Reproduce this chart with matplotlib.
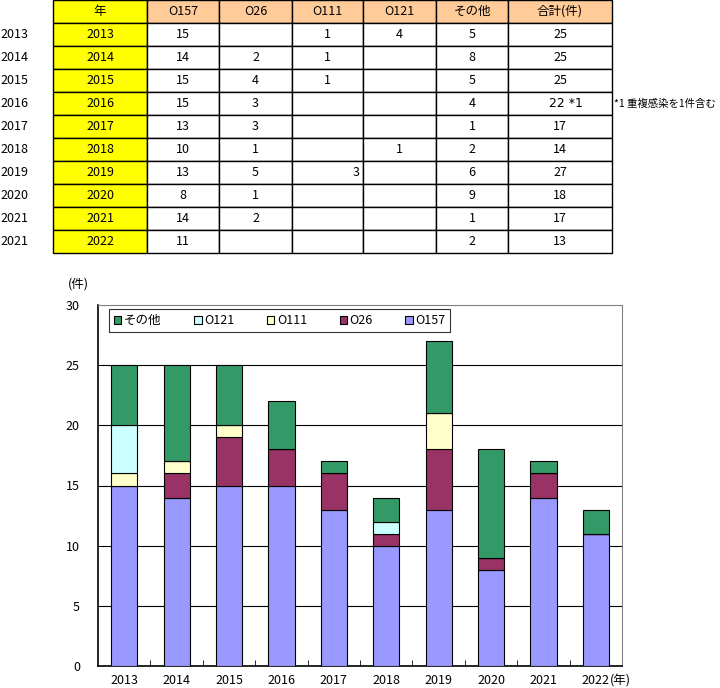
import numpy as np
import matplotlib.pyplot as plt
from matplotlib.patches import Rectangle

plt.rcParams['font.family'] = ['Noto Sans CJK JP', 'DejaVu Sans']

years = ["2013", "2014", "2015", "2016", "2017", "2018", "2019", "2020", "2021", "2022"]
side_years = ["2013", "2014", "2015", "2016", "2017", "2018", "2019", "2020", "2021", "2021"]
o157 = [15, 14, 15, 15, 13, 10, 13, 8, 14, 11]
o26 = [0, 2, 4, 3, 3, 1, 5, 1, 2, 0]
o111 = [1, 1, 1, 0, 0, 0, 3, 0, 0, 0]
o121 = [4, 0, 0, 0, 0, 1, 0, 0, 0, 0]
other = [5, 8, 5, 4, 1, 2, 6, 9, 1, 2]
totals = ["25", "25", "25", "22 *1", "17", "14", "27", "18", "17", "13"]
headers = ["年", "O157", "O26", "O111", "O121", "その他", "合計(件)"]
note = "*1 重複感染を1件含む"

series = [("O157", o157, "#9999FF"), ("O26", o26, "#993366"),
          ("O111", o111, "#FFFFCC"), ("O121", o121, "#CCFFFF"),
          ("その他", other, "#339966")]

W, H = 720, 688
fig = plt.figure(figsize=(W / 100, H / 100), dpi=100)

# table drawn in pixel coordinates
tab = fig.add_axes([0, 0, 1, 1])
tab.set_xlim(0, W)
tab.set_ylim(H, 0)
tab.axis("off")

col_edges = [53, 147, 219, 292, 363, 436, 508, 612]
row_h = 23
fs = 9

for j, h in enumerate(headers):
    x0, x1 = col_edges[j], col_edges[j + 1]
    fc = "#FFFF00" if j == 0 else "#FFCC99"
    tab.add_patch(Rectangle((x0, 0), x1 - x0, row_h, fc=fc, ec="black", lw=1))
    tab.text((x0 + x1) / 2, row_h / 2, h, ha="center", va="center", fontsize=fs)

for i, yr in enumerate(years):
    y0 = row_h * (i + 1)
    yc = y0 + row_h / 2
    vals = [yr, o157[i], o26[i], o111[i], o121[i], other[i], totals[i]]
    for j, v in enumerate(vals):
        x0, x1 = col_edges[j], col_edges[j + 1]
        fc = "#FFFF00" if j == 0 else "white"
        tab.add_patch(Rectangle((x0, y0), x1 - x0, row_h, fc=fc, ec="black", lw=1))
        if v == 0:
            continue
        if j == 3 and yr == "2019":
            tab.text(x1 - 3, yc, str(v), ha="right", va="center", fontsize=fs)
        elif j == 6 and "*" in str(v):
            tab.text((x0 + x1) / 2 + 6, yc, str(v), ha="center", va="center",
                     fontsize=fs, family="DejaVu Sans")
        else:
            tab.text((x0 + x1) / 2, yc, str(v), ha="center", va="center", fontsize=fs)
    tab.text(0, yc, side_years[i], ha="left", va="center", fontsize=fs)
    if totals[i].endswith("*1"):
        tab.text(col_edges[-1] + 2, yc, note, ha="left", va="center", fontsize=7.5)

# stacked bar chart
ax = fig.add_axes([98 / W, (H - 666) / H, 524 / W, (666 - 305) / H])
x = np.arange(len(years))
bottom = np.zeros(len(years))
handles = {}
for name, vals, color in series:
    vals = np.array(vals)
    b = ax.bar(x, vals, 0.5, bottom=bottom, color=color, edgecolor="black", lw=0.8, zorder=3)
    handles[name] = b
    bottom += vals

ax.set_xlim(-0.5, len(years) - 0.5)
ax.set_ylim(0, 30)
ax.set_yticks(range(0, 31, 5))
for yv in range(5, 30, 5):
    ax.axhline(yv, color="black", lw=0.8, zorder=1)
ax.set_xticks(x)
ax.set_xticklabels(years, fontsize=fs)
ax.set_xticks(np.arange(0.5, len(years) - 0.5), minor=True)
ax.tick_params(axis="x", which="major", length=0, pad=5.5)
ax.tick_params(axis="x", which="minor", length=4, direction="in")
ax.tick_params(axis="y", length=0, pad=13, labelsize=fs)
ax.spines["top"].set_color("#808080")
ax.spines["right"].set_color("#808080")
for s in ["left", "bottom"]:
    ax.spines[s].set_linewidth(1.2)

fig.text(68 / W, 1 - 284 / H, "(件)", fontsize=fs, va="center")
fig.text(610 / W, 1 - 681 / H, "(年)", fontsize=fs, va="center", ha="left")

order = ["その他", "O121", "O111", "O26", "O157"]
leg = ax.legend([handles[n] for n in order], order, ncol=5, loc="upper left",
                bbox_to_anchor=(11 / 524, 1 - 4 / 361), fontsize=fs,
                handlelength=0.6, handleheight=0.6, handletextpad=0.2,
                columnspacing=2.6, frameon=True, fancybox=False,
                borderpad=0.4, borderaxespad=0)
leg.get_frame().set_edgecolor("black")
leg.get_frame().set_linewidth(0.8)

fig.savefig("out.png", dpi=100)
